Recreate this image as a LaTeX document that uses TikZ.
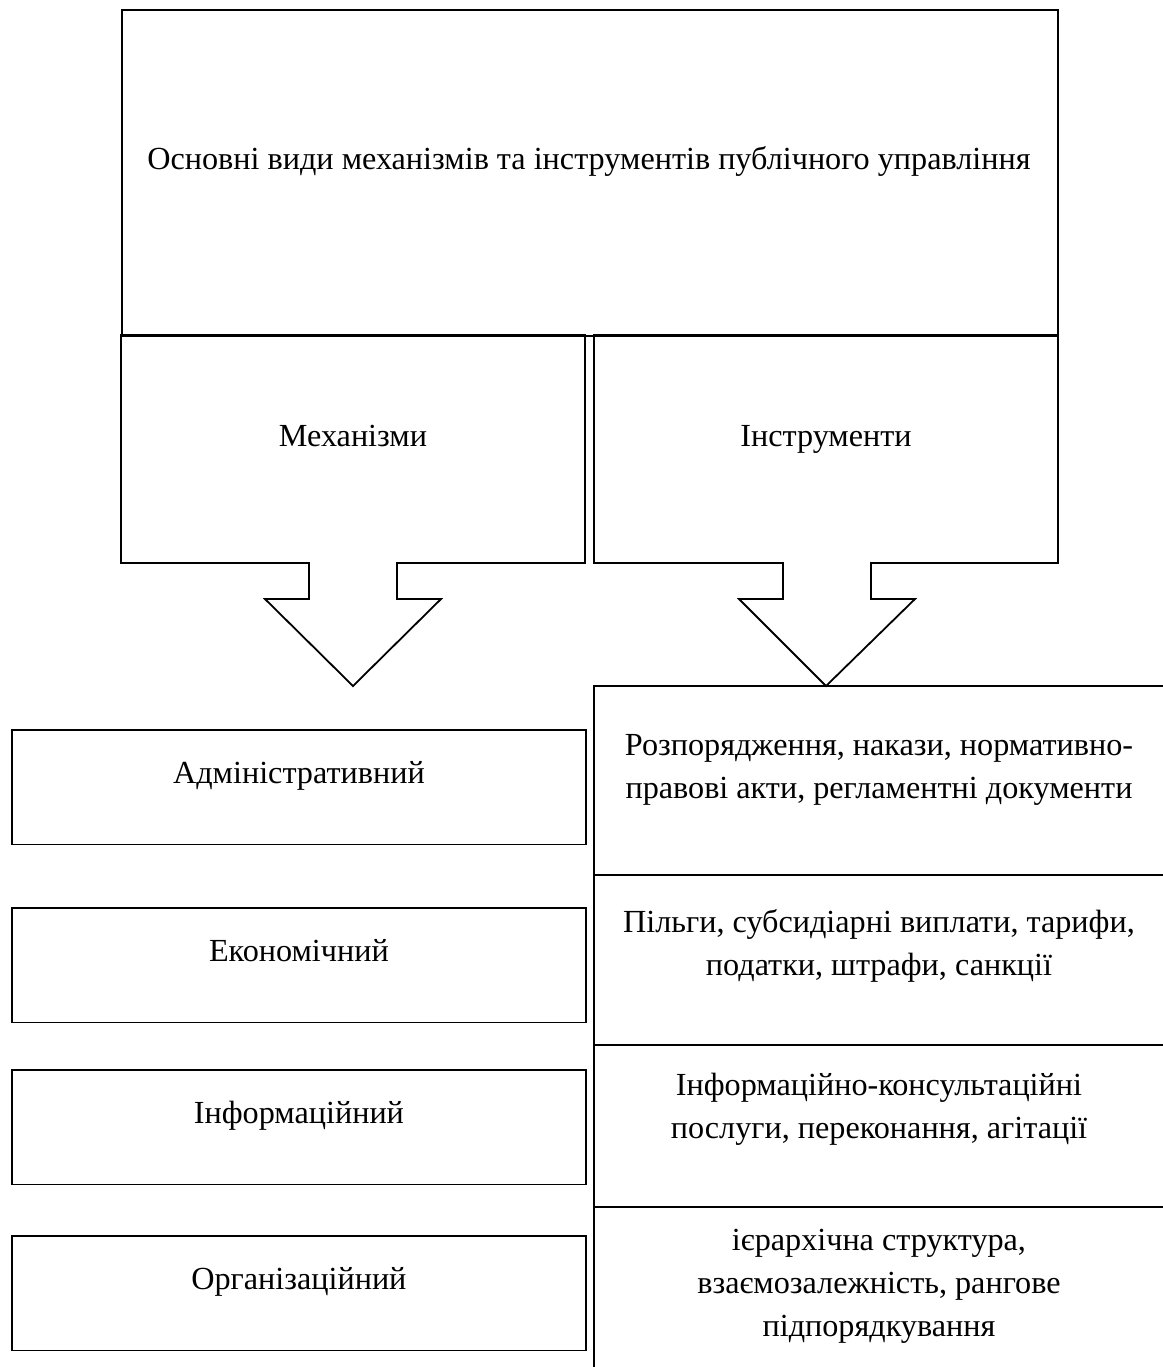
\documentclass[tikz,border=0pt]{standalone}
\usepackage{fontspec}
\setmainfont{Liberation Serif}
\usetikzlibrary{calc}
\begin{document}
\begin{tikzpicture}[x=0.5pt,y=-0.5pt,
  frame/.style={draw=black,line width=0.9pt,line join=miter},
  label/.style={font=\fontsize{16.1}{21.5}\selectfont,align=center,inner sep=0pt},
  oneline/.style={label,text height=0.68em,text depth=0.22em,yshift=-2.5pt},
  mechbox/.style={frame,minimum width=287pt,minimum height=57.3pt,anchor=north west,inner sep=0pt}]
\useasboundingbox (0,0) rectangle (1163,1367);

% heading box
\node[frame,anchor=north west,minimum width=468pt,minimum height=163pt,inner sep=0pt] (head) at (121,9) {};
\node[oneline] (headtxt) at (589,160) {Основні види механізмів та інструментів публічного управління};

% two block arrows pointing down
\draw[frame] (121,335) -- (585,335) -- (585,563) -- (397,563) -- (397,599) -- (441,599)
  -- (353,686) -- (265,599) -- (309,599) -- (309,563) -- (121,563) -- cycle;
\node[oneline] (mech) at (353,437) {Механізми};
\draw[frame] (594,335) -- (1058,335) -- (1058,563) -- (871,563) -- (871,599) -- (915,599)
  -- (826,686) -- (739,599) -- (783,599) -- (783,563) -- (594,563) -- cycle;
\node[oneline] (inst) at (826,437) {Інструменти};

% kinds of mechanisms
\node[mechbox] (m1) at (11,729) {};
\node[oneline] (m1txt) at ($(m1.north)+(0,45)$) {Адміністративний};
\node[mechbox] (m2) at (11,907) {};
\node[oneline] (m2txt) at ($(m2.north)+(0,45)$) {Економічний};
\node[mechbox] (m3) at (11,1069) {};
\node[oneline] (m3txt) at ($(m3.north)+(0,45)$) {Інформаційний};
\node[mechbox] (m4) at (11,1235) {};
\node[oneline] (m4txt) at ($(m4.north)+(0,45)$) {Організаційний};

% column of instruments, running past the right and bottom edges
\begin{scope}
\clip (0,0) rectangle (1163,1367);
\draw[frame] (1180,686) -- (594,686) -- (594,1380);
\draw[frame] (594,875) -- (1180,875);
\draw[frame] (594,1045) -- (1180,1045);
\draw[frame] (594,1207) -- (1180,1207);
\end{scope}
\node[label] (i1) at (879,770) {Розпорядження, накази, нормативно-\\правові акти, регламентні документи};
\node[label] (i2) at (879,946) {Пільги, субсидіарні виплати, тарифи,\\податки, штрафи, санкції};
\node[label] (i3) at (879,1109) {Інформаційно-консультаційні\\послуги, переконання, агітації};
\node[label] (i4) at (879,1286) {ієрархічна структура,\\взаємозалежність, рангове\\підпорядкування};
\end{tikzpicture}
\end{document}
